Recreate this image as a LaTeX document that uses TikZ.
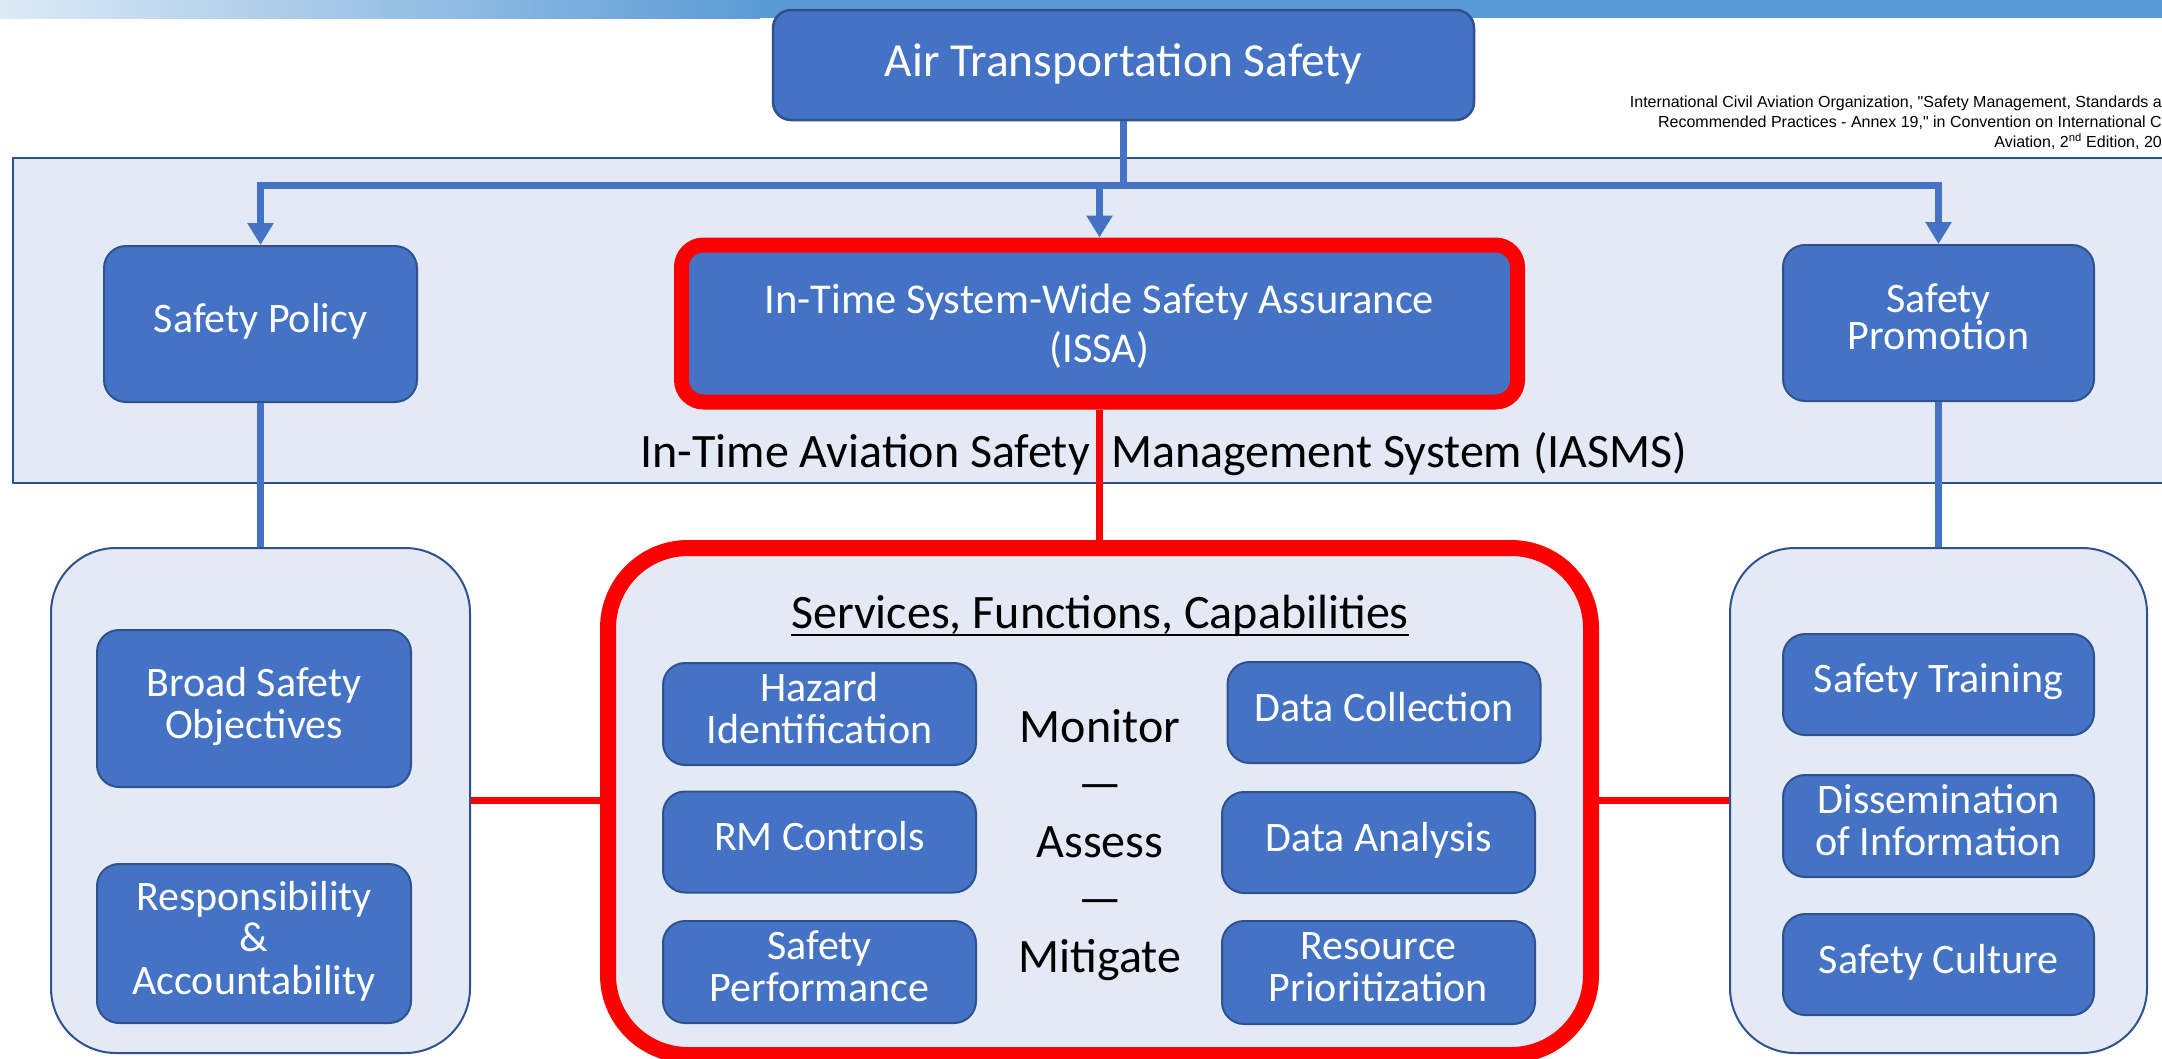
\documentclass[tikz,border=0pt]{standalone}
\usepackage{fontspec}
\setmainfont{Carlito}
\newfontfamily\citefont{Liberation Sans}
\usetikzlibrary{arrows.meta}
\definecolor{boxblue}{HTML}{4472C4}
\definecolor{boxedge}{HTML}{2F528F}
\definecolor{panel}{HTML}{E4EAF5}
\definecolor{alertred}{HTML}{FF0000}
\definecolor{barlight}{HTML}{DDEAF6}
\definecolor{bardark}{HTML}{5B9BD5}
\newcommand\boxfont{\fontsize{42}{40}\selectfont}
\newcommand\bigfont{\fontsize{48}{57}\selectfont}
\newcommand\citesize{\citefont\fontsize{16}{19}\selectfont}

\begin{document}
\begin{tikzpicture}[x=1pt,y=-1pt,
  bluebox/.style={draw=boxedge, line width=2pt, fill=boxblue, rounded corners=22pt,
    text=white, align=center, font=\boxfont, inner sep=0pt, minimum width=313pt},
  panelbox/.style={draw=boxedge, line width=2pt, fill=panel, rounded corners=65pt, inner sep=0pt},
  blueline/.style={draw=boxblue, line width=7pt},
  redline/.style={draw=alertred, line width=7pt},
  downarrow/.style={-{Triangle[width=25pt,length=22pt]}},
  plaintext/.style={inner sep=0pt, text=black},
]
\useasboundingbox (0,0) rectangle (2162,1058);
\clip (0,0) rectangle (2162,1058);

% header bar
\shade[left color=barlight, right color=bardark] (0,0) rectangle (760,18);
\fill[bardark] (760,0) rectangle (2162,18);

% IASMS band
\draw[draw=boxedge, line width=2.5pt, fill=panel] (13,158) rectangle (2185,483);

% reference note
\node[plaintext, anchor=base east, font=\citesize] (cite1) at (2162,107)
  {International Civil Aviation Organization, "Safety Management, Standards a};
\node[plaintext, anchor=base east, font=\citesize] (cite2) at (2162,127.5)
  {Recommended Practices - Annex 19," in Convention on International C};
\node[plaintext, anchor=base east, font=\citesize] (cite3) at (2162,147.5)
  {Aviation, 2\textsuperscript{nd} Edition, 20};

% top level
\node[bluebox, minimum width=701pt, minimum height=110pt, rounded corners=18pt,
  line width=2.5pt, font={\fontsize{47.5}{56}\selectfont}] (title) at (1123.5,65)
  {\rule[-10pt]{0pt}{40pt}Air Transportation Safety};
\coordinate (bus) at (1123.5,185);

% SMS pillars
\node[bluebox, minimum height=156pt] (policy) at (260.5,324) {Safety Policy\strut};
\node[bluebox, minimum width=311pt, minimum height=156pt]
  (promo) at (1938.5,323) {Safety\strut\\[-5pt]Promotion\strut};
\node[draw=alertred, line width=15pt, fill=boxblue, rounded corners=22pt, text=white,
  align=center, font={\fontsize{42.5}{49}\selectfont}, inner sep=0pt,
  minimum width=836pt, minimum height=157pt] (issa) at (1099.5,323.5)
  {\rule{0pt}{43pt}In-Time System-Wide Safety Assurance\\(ISSA)\strut};

\node[plaintext, anchor=base east, font=\bigfont] (iasmsL) at (1090,467) {In-Time Aviation Safety};
\node[plaintext, anchor=base west, font=\bigfont] (iasmsR) at (1111,467) {Management System (IASMS)};

% lower panels
\node[panelbox, minimum width=419pt, minimum height=505pt] (leftcol) at (260.5,800.5) {};
\node[panelbox, minimum width=417pt, minimum height=505pt] (rightcol) at (1938.5,800.5) {};
\node[draw=alertred, line width=16pt, fill=panel, rounded corners=80pt, inner sep=0pt,
  minimum width=983pt, minimum height=507pt] (sfc) at (1099.5,801.5) {};

% safety policy elements
\node[bluebox, minimum width=314pt, minimum height=157pt] (objectives) at (254,708.5)
  {Broad Safety\strut\\Objectives\strut};
\node[bluebox, minimum width=314pt, minimum height=159pt] (responsibility) at (254,943.5)
  {Responsibility\strut\\\&\strut\\Accountability\strut};

% services, functions, capabilities
\node[plaintext, anchor=base, font=\bigfont] (sfctitle) at (1100,628) {Services, Functions, Capabilities};
\draw[line width=2.6pt] ([yshift=-7pt]sfctitle.base west) -- ([yshift=-7pt]sfctitle.base east);

\node[bluebox, minimum height=102pt] (hazard) at (819.5,714) {Hazard\strut\\Identification\strut};
\node[bluebox, minimum height=101pt] (rmc) at (819.5,842) {RM Controls\strut};
\node[bluebox, minimum height=102pt] (perf) at (819.5,972) {Safety\strut\\Performance\strut};
\node[bluebox, minimum height=101pt] (collect) at (1384,712.5) {Data Collection\strut};
\node[bluebox, minimum height=101pt] (analysis) at (1378.5,842.5) {Data Analysis\strut};
\node[bluebox, minimum height=103pt] (resource) at (1378.5,972.5) {Resource\strut\\Prioritization\strut};

\node[plaintext, align=center, font={\fontsize{48}{57.5}\selectfont}] (cycle) at (1100,845.5)
  {Monitor\strut\\—\strut\\Assess\strut\\—\strut\\Mitigate\strut};

% safety promotion elements
\node[bluebox, minimum width=311pt, minimum height=101pt] (training) at (1938.5,684.5) {Safety Training\strut};
\node[bluebox, minimum width=311pt, minimum height=102pt] (dissem) at (1938.5,826)
  {Dissemination\strut\\of Information\strut};
\node[bluebox, minimum width=311pt, minimum height=101pt] (culture) at (1938.5,964.5) {Safety Culture\strut};

% connectors
\draw[blueline] (title.south) -- (bus);
\draw[blueline, downarrow] (bus) -| (policy.north);
\draw[blueline, downarrow] (bus) -| (issa.north);
\draw[blueline, downarrow] (bus) -| (promo.north);
\draw[blueline, line width=7.5pt] (policy.south) -- (leftcol.north);
\draw[blueline, line width=7.5pt] (promo.south) -- (rightcol.north);
\draw[redline] (issa.south) -- (sfc.north);
\draw[redline] (leftcol.east) -- (leftcol.east -| sfc.west);
\draw[redline] (rightcol.west -| sfc.east) -- (rightcol.west);
\end{tikzpicture}
\end{document}
